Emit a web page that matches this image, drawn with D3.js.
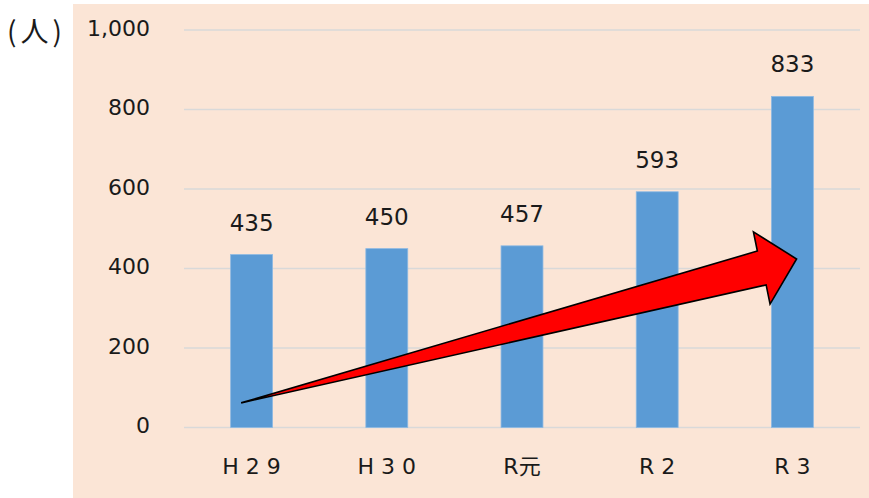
<!DOCTYPE html>
<html>
<head>
<meta charset="utf-8">
<script src="https://cdn.jsdelivr.net/npm/d3@7"></script>
<style>
  body { margin: 0; background: #fff; }
  svg { display: block; }
  text { font-family: "DejaVu Sans", "Noto Sans CJK JP", sans-serif; fill: #1a1a1a; }
</style>
</head>
<body>
<svg id="chart" width="869" height="498"></svg>
<script>
// data
const categories = ["H 2 9", "H 3 0", "R元", "R 2", "R 3"];
const values = [435, 450, 457, 593, 833];
const yTicks = [0, 200, 400, 600, 800, 1000];

const svg = d3.select("#chart");
const width = 869, height = 498;

// peach panel
svg.append("rect")
    .attr("x", 73).attr("y", 4)
    .attr("width", width - 73).attr("height", height - 4)
    .attr("fill", "#FBE5D6");

const x = d3.scaleBand()
    .domain(categories)
    .range([184, 860])
    .paddingInner(0.69)
    .paddingOuter(0.345);

const y = d3.scaleLinear()
    .domain([0, 1000])
    .range([427.5, 30]);

// gridlines
svg.append("g")
    .selectAll("line")
    .data(yTicks)
    .join("line")
    .attr("x1", 184).attr("x2", 860)
    .attr("y1", d => y(d)).attr("y2", d => y(d))
    .attr("stroke", "#D9D9D9")
    .attr("stroke-width", 1.5);

// y tick labels
svg.append("g")
    .selectAll("text")
    .data(yTicks)
    .join("text")
    .attr("x", 150)
    .attr("y", d => y(d) - 2)
    .attr("dy", "0.35em")
    .attr("text-anchor", "end")
    .attr("font-size", 22)
    .text(d => d3.format(",")(d));

// unit label
svg.append("text")
    .attr("x", 7).attr("y", 32)
    .attr("dy", "0.35em")
    .attr("font-size", 28)
    .attr("letter-spacing", 4)
    .style("font-family", "'Noto Sans CJK JP', sans-serif")
    .text("(人)");

// bars
svg.append("g")
    .selectAll("rect")
    .data(values)
    .join("rect")
    .attr("x", (d, i) => x(categories[i]))
    .attr("y", d => y(d))
    .attr("width", x.bandwidth())
    .attr("height", d => y(0) - y(d))
    .attr("fill", "#5B9BD5")
    .attr("stroke", "#8DB9E3")
    .attr("stroke-width", 0.8);

// value labels
svg.append("g")
    .selectAll("text")
    .data(values)
    .join("text")
    .attr("x", (d, i) => x(categories[i]) + x.bandwidth() / 2)
    .attr("y", d => y(d) - 24)
    .attr("text-anchor", "middle")
    .attr("font-size", 23)
    .text(d => d);

// category labels
svg.append("g")
    .selectAll("text")
    .data(categories)
    .join("text")
    .attr("x", d => x(d) + x.bandwidth() / 2)
    .attr("y", 474)
    .attr("text-anchor", "middle")
    .attr("font-size", 22)
    .text(d => d);

// trend arrow (annotation), anchored to the scales
const tail = [x("H 2 9") + x.bandwidth() * 0.25, y(62)];
const tip = [x("R 3") + x.bandwidth() * 0.6, y(424)];
const dx = tip[0] - tail[0], dy = tip[1] - tail[1];
const len = Math.hypot(dx, dy);
const u = [dx / len, dy / len];
const n = [-u[1], u[0]];
const headLen = 36, shaftHalf = 17.5, headHalf = 37;
const base = [tip[0] - u[0] * headLen, tip[1] - u[1] * headLen];
const pt = (p, a, b) => [p[0] + n[0] * a + u[0] * b, p[1] + n[1] * a + u[1] * b];
const arrowPts = [
  tail,
  pt(base, -shaftHalf, 0),
  pt(base, -headHalf, 1),
  tip,
  pt(base, headHalf, -1),
  pt(base, shaftHalf, 0)
];
svg.append("path")
    .attr("d", d3.line()(arrowPts) + "Z")
    .attr("fill", "#FF0000")
    .attr("stroke", "#000")
    .attr("stroke-width", 1.6)
    .attr("stroke-linejoin", "miter");
</script>
</body>
</html>
